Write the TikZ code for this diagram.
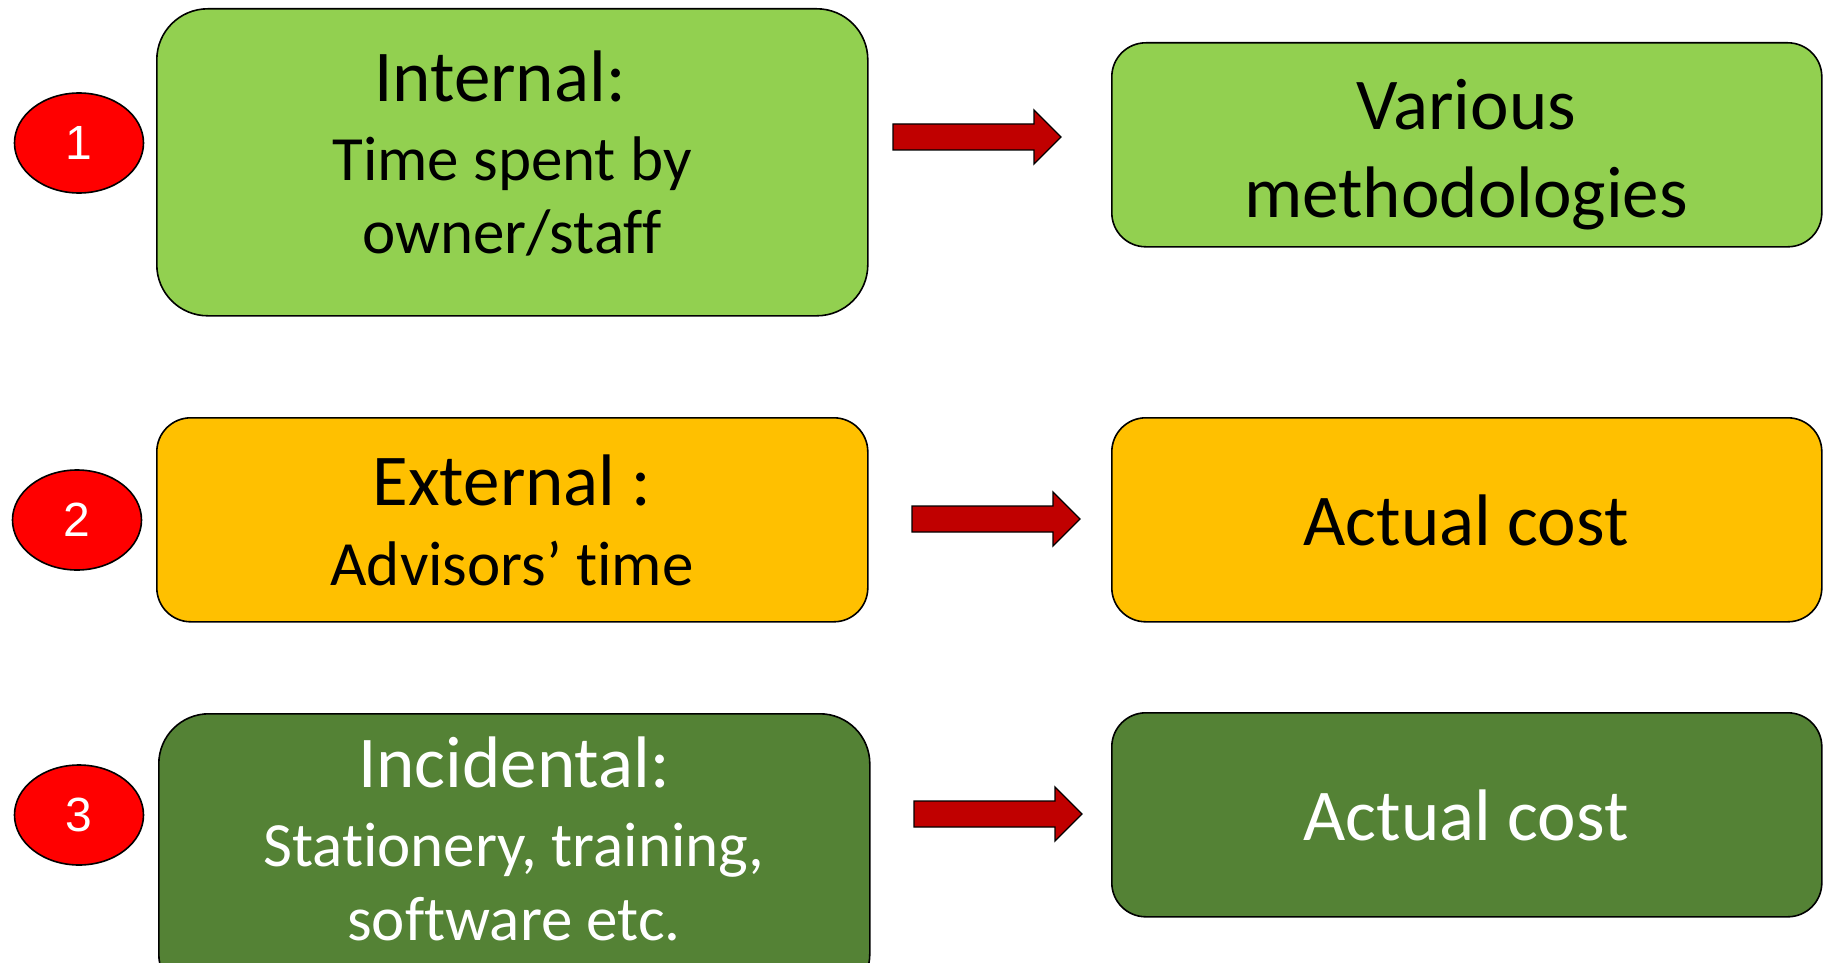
\documentclass[tikz,border=0pt]{standalone}
\usepackage{fontspec}
\setmainfont{Carlito}[Ligatures={NoCommon}, Contextuals={NoAlternate}]
\newfontfamily\arialfont{Liberation Sans}
\usetikzlibrary{shapes.geometric}
\definecolor{lgreen}{HTML}{92D050}
\definecolor{orng}{HTML}{FFC000}
\definecolor{dgreen}{HTML}{548235}
\definecolor{arrowred}{HTML}{C00000}
\newcommand\blockarrow[2]{%
  \filldraw[fill=arrowred, draw=black, line width=1.3pt, line join=miter]
    (#1,#2-13) -- (#1+141,#2-13) -- (#1+141,#2-27) -- (#1+168,#2)
    -- (#1+141,#2+27) -- (#1+141,#2+13) -- (#1,#2+13) -- cycle;}
\begin{document}
\begin{tikzpicture}[x=1pt,y=-1pt,
  box/.style={draw=black, line width=1.6pt, anchor=north west, inner sep=0pt},
  head/.style={font=\fontsize{73}{88}\selectfont, inner sep=0pt, anchor=base},
  body/.style={font=\fontsize{63}{76}\selectfont, inner sep=0pt, anchor=base},
  ell/.style={ellipse, draw=black, line width=1.6pt, fill=red, text=white,
    minimum width=129pt, minimum height=100pt, inner sep=0pt,
    font=\arialfont\fontsize{48}{56}\selectfont}]
\useasboundingbox (0,0) rectangle (1828,963);
\clip (0,0) rectangle (1828,963);

% left boxes
\node[box, fill=lgreen, minimum width=711pt, minimum height=307pt, rounded corners=51pt] (b1) at (156,8) {};
\node[box, fill=orng, minimum width=711pt, minimum height=204pt, rounded corners=34pt] (b2) at (156,417) {};
\node[box, fill=dgreen, minimum width=711pt, minimum height=290pt, rounded corners=50pt] (b3) at (158,713) {};
% right boxes
\node[box, fill=lgreen, minimum width=710pt, minimum height=204pt, rounded corners=34pt] (r1) at (1111,42) {};
\node[box, fill=orng, minimum width=710pt, minimum height=204pt, rounded corners=34pt] (r2) at (1111,417) {};
\node[box, fill=dgreen, minimum width=710pt, minimum height=204pt, rounded corners=34pt] (r3) at (1111,712) {};

% texts
\node[head] (t1a) at (500,102) {Internal:};
\node[body] (t1b) at (512,180) {Time spent by};
\node[body] (t1c) at (512,253) {owner/staff};
\node[head] (t2a) at (512,505) {External :};
\node[body] (t2b) at (512,585) {Advisors’ time};
\node[head, text=white] (t3a) at (514,787) {Incidental:};
\node[body, text=white] (t3b) at (514,866) {Stationery, training,};
\node[body, text=white] (t3c) at (514,940) {software etc.};
\node[head] (s1a) at (1466,130) {Various};
\node[head] (s1b) at (1466,217) {methodologies};
\node[head] (s2) at (1466,545) {Actual cost};
\node[head, text=white] (s3) at (1466,840) {Actual cost};

% number ellipses
\node[ell] (e1) at (79,143) {1};
\node[ell] (e2) at (77,520) {2};
\node[ell] (e3) at (79,815) {3};

% block arrows
\blockarrow{893}{137}
\blockarrow{912}{519}
\blockarrow{914}{814}
\end{tikzpicture}
\end{document}
